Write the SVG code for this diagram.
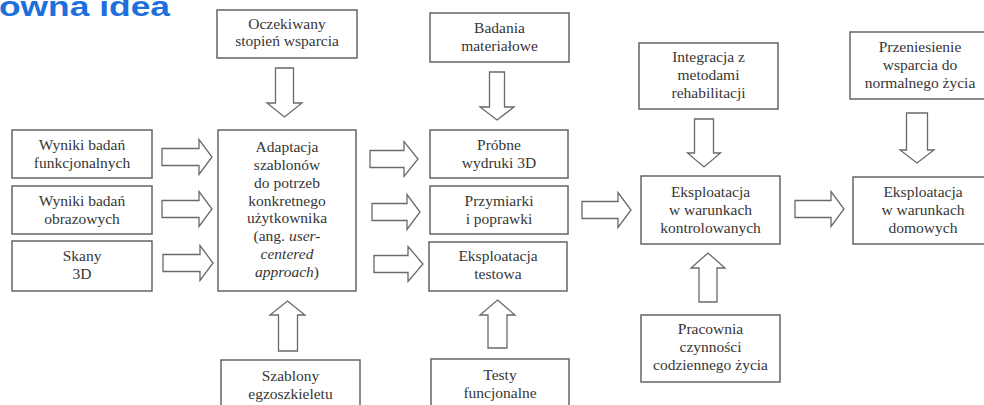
<svg xmlns="http://www.w3.org/2000/svg" width="984" height="405" viewBox="0 0 984 405">
<style>
.box{fill:#fff;stroke:#5a5a5a;stroke-width:1.4}
.arr{fill:#fff;stroke:#6a6a6a;stroke-width:1.3;stroke-linejoin:miter}
.t{font-family:'Liberation Serif','Times New Roman',serif;font-size:15.5px;fill:#363636;text-anchor:middle}
.i{font-style:italic}
.title{font-family:'Liberation Sans',Arial,sans-serif;font-weight:bold;font-size:28px;fill:#1e6fdc}
</style>
<rect width="984" height="405" fill="#fff"/>
<text class="title" x="-1" y="15.5" textLength="171" lengthAdjust="spacingAndGlyphs">owna idea</text>

<g id="connectors">
<polygon class="arr" points="162,148.5 199,148.5 199,139.5 212,157 199,174.5 199,165.5 162,165.5"/>
<polygon class="arr" points="162,200.5 199,200.5 199,191.5 212,209 199,226.5 199,217.5 162,217.5"/>
<polygon class="arr" points="163,254.5 200,254.5 200,245.5 213,263 200,280.5 200,271.5 163,271.5"/>
<polygon class="arr" points="370,150.5 404,150.5 404,141.5 418,159 404,176.5 404,167.5 370,167.5"/>
<polygon class="arr" points="372,203.5 407,203.5 407,194.5 420,212 407,229.5 407,220.5 372,220.5"/>
<polygon class="arr" points="374,255.5 408,255.5 408,246.5 423,264 408,281.5 408,272.5 374,272.5"/>
<polygon class="arr" points="582,201.5 618,201.5 618,192.5 631,210 618,227.5 618,218.5 582,218.5"/>
<polygon class="arr" points="795,200.5 831,200.5 831,191.5 844,209 831,226.5 831,217.5 795,217.5"/>
<polygon class="arr" points="275.5,68 293.5,68 293.5,103 302,103 284.5,117 267,103 275.5,103"/>
<polygon class="arr" points="489.5,72 504.5,72 504.5,107 514,107 497,120 480,107 489.5,107"/>
<polygon class="arr" points="694.5,119 713.5,119 713.5,153 720.5,153 704,167 687.5,153 694.5,153"/>
<polygon class="arr" points="906.5,113 927.5,113 927.5,150 934,150 917,163 900,150 906.5,150"/>
<polygon class="arr" points="287.5,301 305,315 297.5,315 297.5,351 278.5,351 278.5,315 270,315"/>
<polygon class="arr" points="497.5,300 515,315 507,315 507,348 488,348 488,315 480,315"/>
<polygon class="arr" points="708,253 725,268 717,268 717,302 699,302 699,268 691,268"/>
</g>

<g id="oczekiwany">
<rect class="box" x="217" y="10" width="140" height="48"/>
<text class="t" x="287" y="29">Oczekiwany</text>
<text class="t" x="287" y="46">stopień wsparcia</text>
</g>

<g id="adaptacja">
<rect class="box" x="218" y="130" width="138" height="161"/>
<text class="t" x="287" y="152">Adaptacja</text>
<text class="t" x="287" y="169.85">szablonów</text>
<text class="t" x="287" y="187.7">do potrzeb</text>
<text class="t" x="287" y="205.55">konkretnego</text>
<text class="t" x="287" y="223.4">użytkownika</text>
<text class="t" x="287" y="241.25">(ang. <tspan class="i">user-</tspan></text>
<text class="t i" x="287" y="259.1">centered</text>
<text class="t" x="287" y="276.95"><tspan class="i">approach</tspan>)</text>
</g>

<g id="wyniki-funkcjonalnych">
<rect class="box" x="12" y="130" width="140" height="48"/>
<text class="t" x="82" y="150">Wyniki badań</text>
<text class="t" x="82" y="168">funkcjonalnych</text>
</g>

<g id="wyniki-obrazowych">
<rect class="box" x="12" y="186" width="140" height="48"/>
<text class="t" x="82" y="206">Wyniki badań</text>
<text class="t" x="82" y="224">obrazowych</text>
</g>

<g id="skany">
<rect class="box" x="12" y="241" width="140" height="50"/>
<text class="t" x="82" y="261">Skany</text>
<text class="t" x="82" y="279">3D</text>
</g>

<g id="szablony">
<rect class="box" x="221" y="360" width="139" height="60"/>
<text class="t" x="290.5" y="381">Szablony</text>
<text class="t" x="290.5" y="399">egzoszkieletu</text>
</g>

<g id="badania">
<rect class="box" x="430" y="13" width="139" height="49"/>
<text class="t" x="499.5" y="33">Badania</text>
<text class="t" x="499.5" y="51">materiałowe</text>
</g>

<g id="probne">
<rect class="box" x="430" y="130" width="138" height="48"/>
<text class="t" x="499" y="150">Próbne</text>
<text class="t" x="499" y="168">wydruki 3D</text>
</g>

<g id="przymiarki">
<rect class="box" x="430" y="186" width="138" height="48"/>
<text class="t" x="499" y="206">Przymiarki</text>
<text class="t" x="499" y="224">i poprawki</text>
</g>

<g id="testowa">
<rect class="box" x="429" y="242" width="138" height="49"/>
<text class="t" x="498" y="261">Eksploatacja</text>
<text class="t" x="498" y="279">testowa</text>
</g>

<g id="testy">
<rect class="box" x="431" y="359" width="138" height="60"/>
<text class="t" x="500" y="380">Testy</text>
<text class="t" x="500" y="398">funcjonalne</text>
</g>

<g id="integracja">
<rect class="box" x="639" y="43" width="139" height="66"/>
<text class="t" x="708.5" y="62">Integracja z</text>
<text class="t" x="708.5" y="80">metodami</text>
<text class="t" x="708.5" y="98">rehabilitacji</text>
</g>

<g id="kontrolowanych">
<rect class="box" x="641" y="176" width="139" height="68"/>
<text class="t" x="710.5" y="197">Eksploatacja</text>
<text class="t" x="710.5" y="215">w warunkach</text>
<text class="t" x="710.5" y="233">kontrolowanych</text>
</g>

<g id="pracownia">
<rect class="box" x="641" y="315" width="139" height="67"/>
<text class="t" x="710.5" y="334">Pracownia</text>
<text class="t" x="710.5" y="352">czynności</text>
<text class="t" x="710.5" y="370">codziennego życia</text>
</g>

<g id="przeniesienie">
<rect class="box" x="850" y="32" width="140" height="67"/>
<text class="t" x="920" y="52">Przeniesienie</text>
<text class="t" x="920" y="70">wsparcia do</text>
<text class="t" x="920" y="88">normalnego życia</text>
</g>

<g id="domowych">
<rect class="box" x="853" y="177" width="140" height="67"/>
<text class="t" x="923" y="197">Eksploatacja</text>
<text class="t" x="923" y="215">w warunkach</text>
<text class="t" x="923" y="233">domowych</text>
</g>
</svg>
